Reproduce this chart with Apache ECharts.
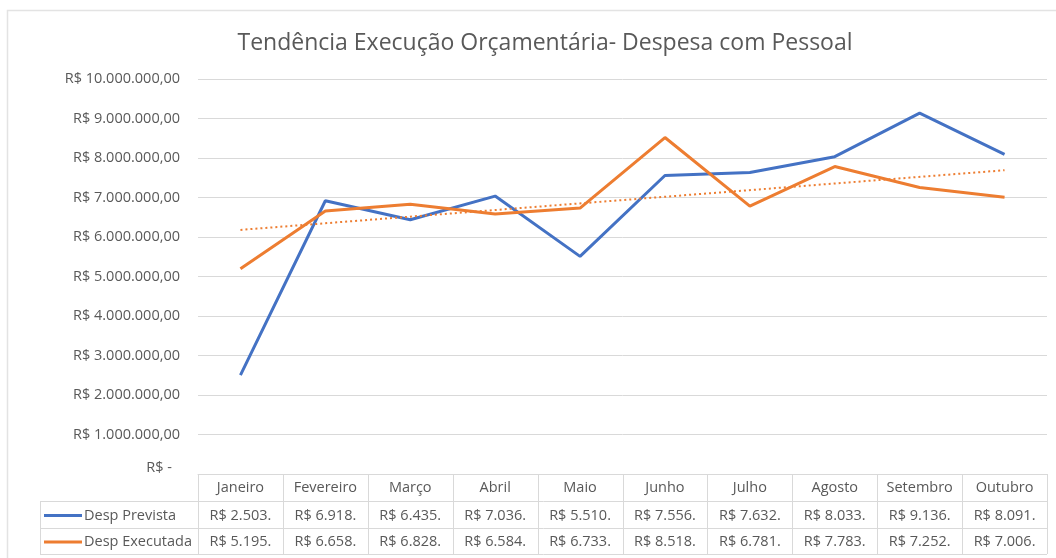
<!DOCTYPE html>
<html>
<head>
<meta charset="utf-8">
<script src="https://cdn.jsdelivr.net/npm/echarts@6/dist/echarts.min.js"></script>
<style>
  html, body { margin: 0; padding: 0; background: #fff; }
  #chart { width: 1056px; height: 558px; }
</style>
</head>
<body>
<div id="chart"></div>
<script>
// dados
const meses = ['Janeiro', 'Fevereiro', 'Março', 'Abril', 'Maio', 'Junho', 'Julho', 'Agosto', 'Setembro', 'Outubro']
const despPrevista = [2503000, 6918000, 6435000, 7036000, 5510000, 7556000, 7632000, 8033000, 9136000, 8091000]
const despExecutada = [5195000, 6658000, 6828000, 6584000, 6733000, 8518000, 6781000, 7783000, 7252000, 7006000]
const tendencia = [6180000, 7690000]

const FONT = '"Open Sans", "Noto Sans", sans-serif'
const TXT = '#595959'
const BORDA = '#d9d9d9'
const FS = 14.5

function milhar(n) {
  return String(n).replace(/\B(?=(\d{3})+(?!\d))/g, '.')
}
// rótulo do eixo: R$ 10.000.000,00
function moeda(v) {
  if (v === 0) return '{z|R$ -}'
  return 'R$ ' + milhar(Math.round(v)) + ',00'
}
// célula da tabela cortada como no Excel: R$ 2.503.
function celula(v) {
  const mi = Math.floor(v / 1e6)
  const mil = String(Math.floor(v / 1e3) % 1000).padStart(3, '0')
  return 'R$ ' + mi + '.' + mil + '.'
}

const trendData = meses.map((m, i) => i === 0 ? tendencia[0] : (i === meses.length - 1 ? tendencia[1] : '-'))

const myChart = echarts.init(document.getElementById('chart'))
const option = {
  animation: false,
  title: {
    text: 'Tendência Execução Orçamentária- Despesa com Pessoal',
    left: 540,
    textAlign: 'center',
    top: 27,
    textStyle: { color: TXT, fontSize: 23, fontWeight: 'normal', fontFamily: FONT }
  },
  grid: { left: 198, right: 9, top: 79, bottom: 84 },
  xAxis: {
    type: 'category',
    data: meses,
    boundaryGap: true,
    axisLine: { lineStyle: { color: BORDA } },
    axisTick: { show: false },
    axisLabel: { show: false }
  },
  yAxis: {
    type: 'value',
    min: 0,
    max: 10000000,
    interval: 1000000,
    axisLine: { show: false },
    axisTick: { show: false },
    splitLine: { lineStyle: { color: BORDA, width: 1 } },
    axisLabel: {
      color: TXT, fontSize: FS, fontFamily: FONT, margin: 18,
      formatter: moeda,
      rich: { z: { color: TXT, fontSize: FS, fontFamily: FONT, padding: [0, 8, 12, 0] } }
    }
  },
  series: [
    {
      name: 'Desp Prevista', type: 'line', data: despPrevista,
      symbol: 'none', lineStyle: { color: '#4472C4', width: 3 }, z: 3
    },
    {
      name: 'Desp Executada', type: 'line', data: despExecutada,
      symbol: 'none', lineStyle: { color: '#ED7D31', width: 3 }, z: 4
    },
    {
      name: 'Linear (Desp Executada)', type: 'line', data: trendData,
      connectNulls: true, symbol: 'none',
      lineStyle: { color: '#ED7D31', width: 2, type: [2, 3] }, z: 5
    }
  ]
}
myChart.setOption(option)

// tabela de dados abaixo do gráfico (como no Excel)
function desenhaTabela() {
  const g = []
  const left = 198, right = 1056 - 9
  const colW = (right - left) / meses.length
  const yTop = 474, yR1 = 501, yR2 = 528, yBot = 554
  const legLeft = 40
  const linha = (x1, y1, x2, y2) => ({
    type: 'line', silent: true,
    shape: { x1, y1, x2, y2 },
    style: { stroke: BORDA, lineWidth: 1 }
  })
  const texto = (t, x, y, align) => ({
    type: 'text', silent: true, x, y,
    style: { text: t, align: align || 'center', verticalAlign: 'middle', fill: TXT, fontSize: FS, fontFamily: FONT }
  })
  // moldura do gráfico
  g.push({ type: 'rect', silent: true, shape: { x: 7.5, y: 10.5, width: 1200, height: 700 }, style: { fill: null, stroke: '#e3e3e3', lineWidth: 1.5 } })
  // linhas horizontais
  g.push(linha(left, yTop + 0.5, right, yTop + 0.5))
  g.push(linha(legLeft, yR1 + 0.5, right, yR1 + 0.5))
  g.push(linha(legLeft, yR2 + 0.5, right, yR2 + 0.5))
  g.push(linha(legLeft, yBot + 0.5, right, yBot + 0.5))
  g.push(linha(legLeft + 0.5, yR1, legLeft + 0.5, yBot))
  for (let i = 0; i <= meses.length; i++) {
    const x = Math.round(left + i * colW) + 0.5
    g.push(linha(x, yTop, x, yBot))
  }
  meses.forEach((m, i) => {
    const cx = myChart.convertToPixel({ xAxisIndex: 0 }, i)
    g.push(texto(m, cx, (yTop + yR1) / 2))
    g.push(texto(celula(despPrevista[i]), cx, (yR1 + yR2) / 2 + 1))
    g.push(texto(celula(despExecutada[i]), cx, (yR2 + yBot) / 2 + 1))
  })
  // chaves da legenda
  const chaves = [['Desp Prevista', '#4472C4', (yR1 + yR2) / 2 + 1], ['Desp Executada', '#ED7D31', (yR2 + yBot) / 2 + 1]]
  chaves.forEach(([nome, cor, y]) => {
    g.push({ type: 'line', silent: true, shape: { x1: 44, y1: y, x2: 82, y2: y }, style: { stroke: cor, lineWidth: 3 } })
    g.push(texto(nome, 84, y, 'left'))
  })
  myChart.setOption({ graphic: g })
}
desenhaTabela()
</script>
</body>
</html>
